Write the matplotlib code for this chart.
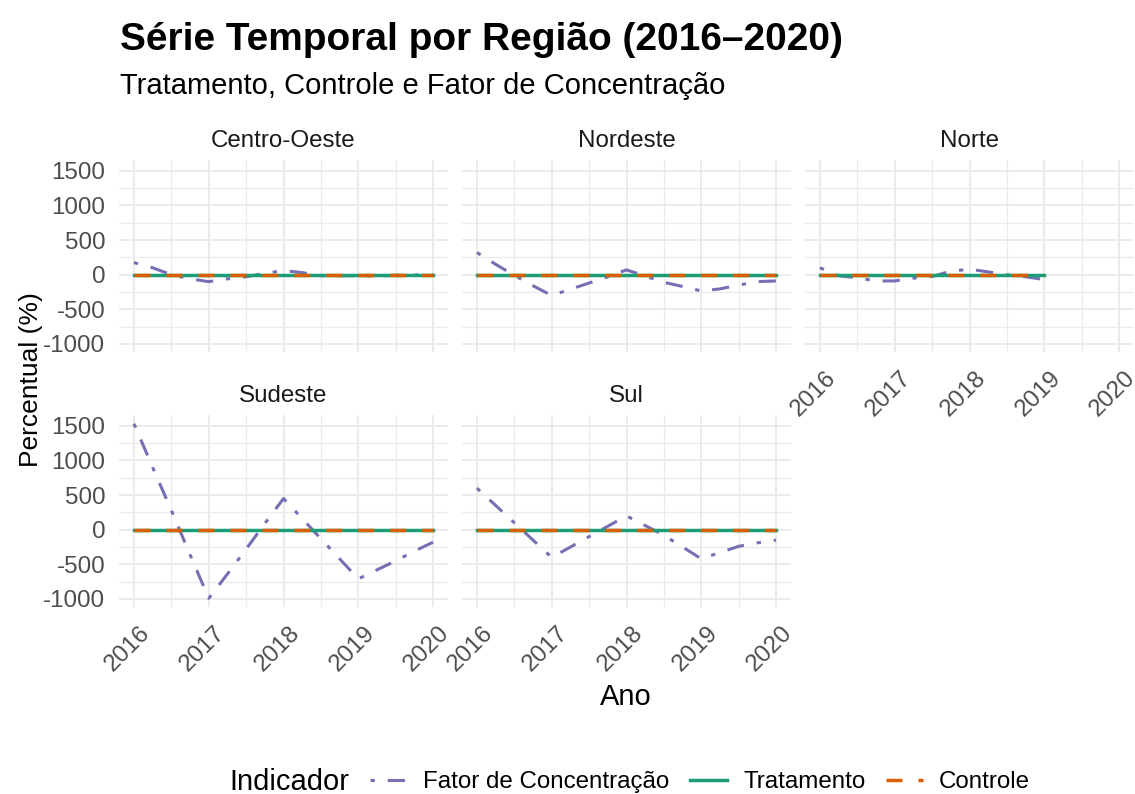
import matplotlib
import matplotlib.pyplot as plt
from matplotlib.lines import Line2D
from matplotlib.transforms import ScaledTranslation

matplotlib.use("Agg")

plt.rcParams["font.family"] = ["Liberation Sans", "DejaVu Sans"]
plt.rcParams["lines.scale_dashes"] = False
plt.rcParams["axes.unicode_minus"] = False

# quarterly time points (decimal years)
quarters = [2016.0, 2016.25, 2016.5, 2016.75,
            2017.0, 2017.25, 2017.5, 2017.75,
            2018.0, 2018.25, 2018.5, 2018.75,
            2019.0, 2019.25, 2019.5, 2019.75,
            2020.0]

regions = ["Centro-Oeste", "Nordeste", "Norte", "Sudeste", "Sul"]

fator_centro_oeste = [175, 100, 0, -60, -100, -60, -30, 20, 60, 30, -15, -15, -15, -20, -10, -5, 0]
fator_nordeste = [320, 150, -10, -160, -300, -210, -120, -30, 70, -20, -110, -170, -235, -205, -150, -100, -90]
fator_norte = [100, -15, -45, -90, -90, -50, -25, 50, 80, 40, 0, -30, -70]
fator_sudeste = [1530, 900, 280, -360, -990, -640, -280, 90, 450, 160, -130, -420, -710, -580, -450, -310, -180]
fator_sul = [600, 350, 100, -150, -400, -250, -100, 50, 200, 60, -80, -250, -420, -330, -240, -190, -150]

fator = {
    "Centro-Oeste": fator_centro_oeste,
    "Nordeste": fator_nordeste,
    "Norte": fator_norte,
    "Sudeste": fator_sudeste,
    "Sul": fator_sul,
}

year_ticks = [2016, 2017, 2018, 2019, 2020]
year_minor = [2016.5, 2017.5, 2018.5, 2019.5]
y_ticks = [-1000, -500, 0, 500, 1000, 1500]
y_minor = [-750, -250, 250, 750, 1250]

COLOR_FATOR = "#7570B3"
COLOR_TRAT = "#1B9E77"
COLOR_CTRL = "#D95F02"
STYLE_FATOR = (0, (3.1, 9.3, 12.4, 9.3))
STYLE_CTRL = (0, (11.5, 11.5))
GRID = "#EBEBEB"

W, H = 1135, 794
fig = plt.figure(figsize=(W / 100, H / 100), dpi=100)
fig.patch.set_facecolor("white")

col_left = [119, 462, 805]
row_top = [160, 415]
panel_w, panel_h = 329, 192

all_vals = [v for series in fator.values() for v in series] + [0]
lo, hi = min(all_vals), max(all_vals)
pad = 0.05 * (hi - lo)

layout = {
    "Centro-Oeste": (0, 0),
    "Nordeste": (0, 1),
    "Norte": (0, 2),
    "Sudeste": (1, 0),
    "Sul": (1, 1),
}

for region in regions:
    row, col = layout[region]
    ax = fig.add_axes([col_left[col] / W, 1 - (row_top[row] + panel_h) / H, panel_w / W, panel_h / H])
    values = fator[region]
    x = quarters[:len(values)]
    zeros = [0] * len(values)

    ax.plot(x, values, color=COLOR_FATOR, lw=2.2, linestyle=STYLE_FATOR)
    ax.plot(x, zeros, color=COLOR_TRAT, lw=2.5)
    ax.plot(x, zeros, color=COLOR_CTRL, lw=2.5, linestyle=STYLE_CTRL)

    ax.set_xlim(2015.8, 2020.2)
    ax.set_ylim(lo - pad, hi + pad)
    ax.set_xticks(year_ticks)
    ax.set_xticks(year_minor, minor=True)
    ax.set_yticks(y_ticks)
    ax.set_yticks(y_minor, minor=True)
    ax.grid(True, which="major", color=GRID, lw=1.4)
    ax.grid(True, which="minor", color=GRID, lw=0.9)
    ax.set_axisbelow(True)
    for spine in ax.spines.values():
        spine.set_visible(False)
    ax.tick_params(which="both", length=0)
    ax.tick_params(axis="y", pad=10, labelsize=17.4, labelcolor="#4D4D4D")
    ax.tick_params(axis="x", pad=11, labelsize=17.4, labelcolor="#4D4D4D")

    if col != 0:
        ax.set_yticklabels([])
    if row == 0 and col != 2:
        ax.set_xticklabels([])
    else:
        ax.set_xticklabels([str(y) for y in year_ticks])
        shift = ScaledTranslation(0.05, 0, fig.dpi_scale_trans)
        for label in ax.get_xticklabels():
            label.set_rotation(45)
            label.set_ha("right")
            label.set_va("top")
            label.set_rotation_mode("anchor")
            label.set_transform(label.get_transform() + shift)

    ax.text(0.5, 1 + (160 - 147) / panel_h, region, transform=ax.transAxes,
            ha="center", va="baseline", fontsize=17.4, color="#1A1A1A")

fig.text(120 / W, 1 - 50 / H, "Série Temporal por Região (2016–2020)",
         fontsize=28, fontweight="bold", ha="left", va="baseline", color="black")
fig.text(120 / W, 1 - 94 / H, "Tratamento, Controle e Fator de Concentração",
         fontsize=21, ha="left", va="baseline", color="black")

fig.text(31 / W, 1 - 380 / H, "Percentual (%)", rotation=90, fontsize=19,
         ha="center", va="center", color="black")
fig.text(626 / W, 1 - 697 / H, "Ano", fontsize=21, ha="center", va="center", color="black")

fig.text(229 / W, 1 - 782 / H, "Indicador", fontsize=21, ha="left", va="center", color="black")
handles = [
    Line2D([], [], color=COLOR_FATOR, lw=2.2, linestyle=STYLE_FATOR),
    Line2D([], [], color=COLOR_TRAT, lw=2.5),
    Line2D([], [], color=COLOR_CTRL, lw=2.5, linestyle=STYLE_CTRL),
]
fig.legend(handles, ["Fator de Concentração", "Tratamento", "Controle"],
           loc="center left", bbox_to_anchor=(370 / W, 1 - 782 / H), ncol=3,
           frameon=False, fontsize=17.4, handlelength=1.55, handletextpad=0.65,
           columnspacing=0.85, borderpad=0, borderaxespad=0)

fig.savefig("out.png", dpi=100, facecolor="white")
